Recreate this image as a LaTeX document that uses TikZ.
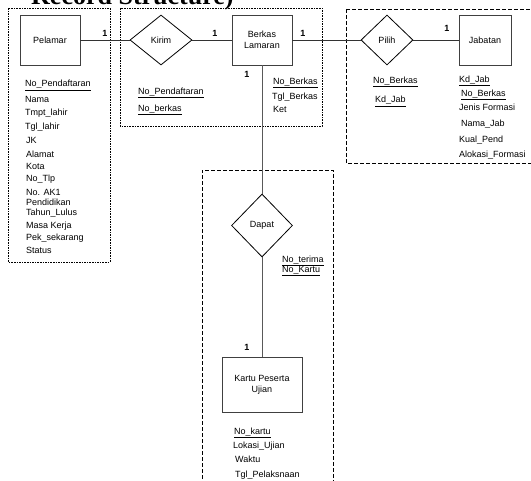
\documentclass[tikz,border=0pt]{standalone}
\usepackage{fontspec}
\setmainfont{Liberation Sans}
\newfontfamily\titleserif{Liberation Serif}
\usetikzlibrary{shapes.geometric}
\tikzset{
  entity/.style={draw=black!75, line width=0.9pt, minimum width=60pt, minimum height=50pt,
    inner sep=0pt, align=center, font=\fontsize{9}{11}\selectfont},
  relation/.style={draw=black, line width=0.8pt, diamond, inner sep=0pt, aspect=1,
    font=\fontsize{9}{11}\selectfont},
  attr/.style={anchor=base west, inner sep=0pt, font=\fontsize{9}{10}\selectfont},
  card/.style={inner sep=0pt, font=\bfseries\fontsize{9}{10}\selectfont},
  link/.style={draw=black!80, line width=0.9pt},
  finebox/.style={draw=black, line width=0.6pt, dash pattern=on 1.6pt off 1pt},
  widebox/.style={draw=black, line width=0.7pt, dash pattern=on 4pt off 2pt},
}
\begin{document}
\begin{tikzpicture}[x=1pt, y=-1pt]
\useasboundingbox (0,0) rectangle (531,481);
\fill[white] (0,0) rectangle (531,481);

% heading (mostly above the page)
\node[anchor=base west, inner sep=0pt, font=\titleserif\bfseries\fontsize{26}{30}\selectfont]
  (title) at (31,5) {Record Structure)};

% grouping frames
\draw[finebox] (8,8) rectangle (110,262);
\draw[finebox] (120,8) rectangle (322,126);
\draw[widebox] (346,9) -- (535,9) (346,9) -- (346,163) -- (535,163);
\draw[widebox] (202,485) -- (202,170) -- (333,170) -- (333,485);

% entities
\node[entity] (pelamar) at (50,40) {Pelamar};
\node[entity] (berkas) at (262,40) {Berkas\\Lamaran};
\node[entity, minimum width=52pt] (jabatan) at (485,40) {Jabatan};
\node[entity, minimum width=80pt, minimum height=55pt] (kartu) at (262,384.5) {Kartu Peserta\\Ujian};

% relationships
\node[relation, minimum width=62pt, minimum height=50pt] (kirim) at (161,40) {Kirim};
\node[relation, minimum width=52pt, minimum height=50pt] (pilih) at (387,40) {Pilih};
\node[relation, minimum width=61pt, minimum height=63pt] (dapat) at (262,225.5) {Dapat};

% connectors
\draw[link] (pelamar) -- (kirim);
\draw[link] (kirim) -- (berkas);
\draw[link] (berkas) -- (pilih);
\draw[link] (pilih) -- (jabatan);
\draw[link, draw=black!65] (berkas) -- (dapat);
\draw[link, draw=black!65] (dapat) -- (kartu);

% cardinalities
\node[card] (c1) at (105,33) {1};
\node[card] (c2) at (215,33) {1};
\node[card] (c3) at (303,33) {1};
\node[card] (c4) at (447,28) {1};
\node[card] (c5) at (247,74) {1};
\node[card] (c6) at (247,347) {1};

% Pelamar attributes
\node[attr] (p1) at (25,87) {\underline{No\_Pendaftaran}};
\node[attr] (p2) at (25,103) {Nama};
\node[attr] (p3) at (25,116) {Tmpt\_lahir};
\node[attr] (p4) at (25,130) {Tgl\_lahir};
\node[attr] (p5) at (26,144) {JK};
\node[attr] (p6) at (26,157.5) {Alamat};
\node[attr] (p7) at (26,169.5) {Kota};
\node[attr] (p8) at (26,182) {No\_Tlp};
\node[attr] (p9) at (26,195.5) {No. AK1};
\node[attr] (p10) at (26,206) {Pendidikan};
\node[attr] (p11) at (26,215.5) {Tahun\_Lulus};
\node[attr] (p12) at (26,228.5) {Masa Kerja};
\node[attr] (p13) at (26,240.5) {Pek\_sekarang};
\node[attr] (p14) at (26,254) {Status};

% Kirim attributes
\node[attr] (k1) at (138,94.5) {\underline{No\_Pendaftaran}};
\node[attr] (k2) at (138,111.5) {\underline{No\_berkas}};

% Berkas Lamaran attributes
\node[attr] (b1) at (273,84.5) {\underline{No\_Berkas}};
\node[attr] (b2) at (272,99.5) {Tgl\_Berkas};
\node[attr] (b3) at (273,112.5) {Ket};

% Pilih attributes
\node[attr] (s1) at (373,83.5) {\underline{No\_Berkas}};
\node[attr] (s2) at (375,103) {\underline{Kd\_Jab}};

% Jabatan attributes
\node[attr] (j1) at (459,82.5) {\underline{Kd\_Jab}};
\node[attr] (j2) at (461,96.5) {\underline{No\_Berkas}};
\node[attr] (j3) at (459,110.5) {Jenis Formasi};
\node[attr] (j4) at (461,126.5) {Nama\_Jab};
\node[attr] (j5) at (459,142.5) {Kual\_Pend};
\node[attr] (j6) at (459,157.5) {Alokasi\_Formasi};

% Dapat attributes
\node[attr] (d1) at (282,262.5) {\underline{No\_terima}};
\node[attr] (d2) at (282,272.5) {\underline{No\_Kartu}};

% Kartu Peserta Ujian attributes
\node[attr] (u1) at (234,434.5) {\underline{No\_kartu}};
\node[attr] (u2) at (233,448.5) {Lokasi\_Ujian};
\node[attr] (u3) at (235,462.5) {Waktu};
\node[attr] (u4) at (235,477.5) {Tgl\_Pelaksnaan};
\end{tikzpicture}
\end{document}
